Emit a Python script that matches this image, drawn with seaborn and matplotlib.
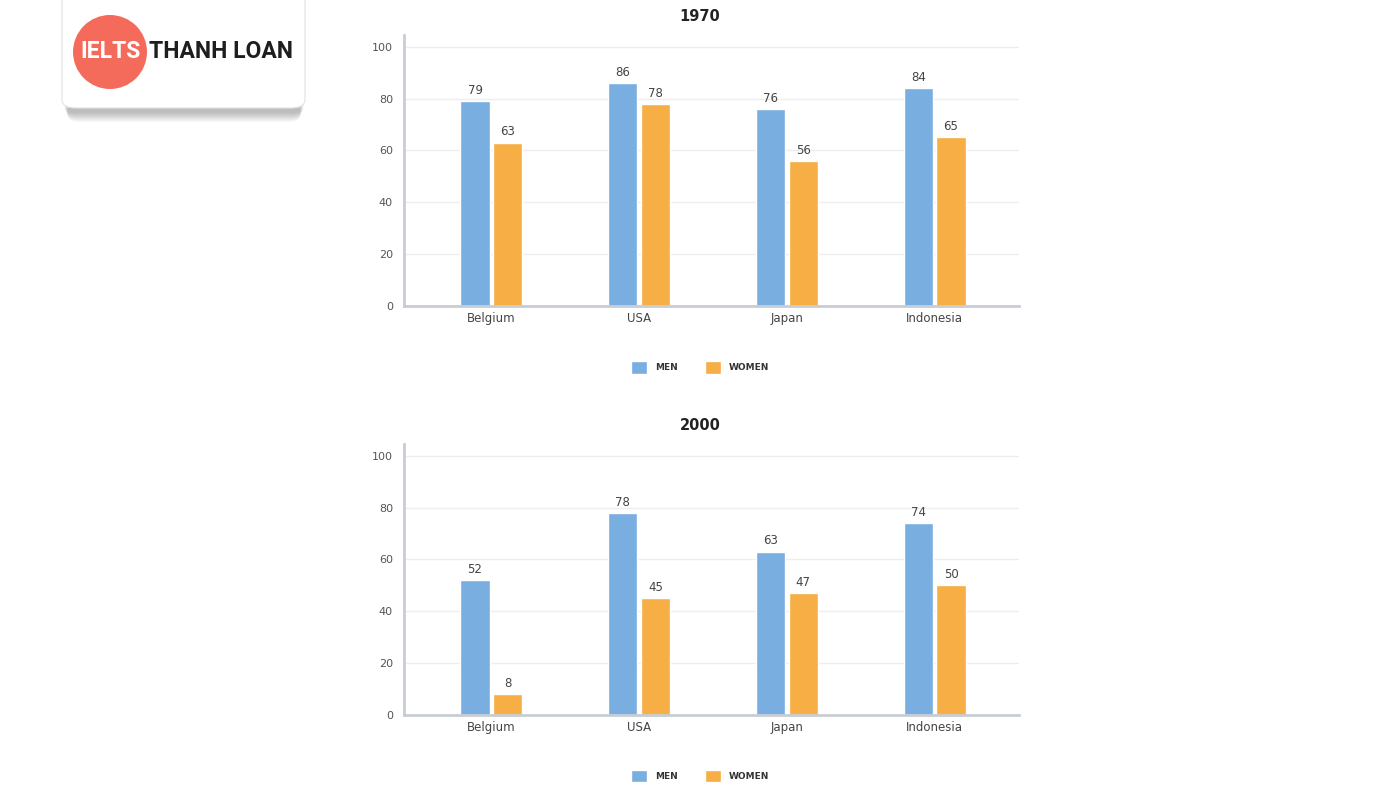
import matplotlib
matplotlib.use("Agg")
import matplotlib.pyplot as plt
from matplotlib.patches import FancyBboxPatch, Circle
from matplotlib import font_manager
import seaborn as sns
import pandas as pd

countries = ["Belgium", "USA", "Japan", "Indonesia"]
series = ["MEN", "WOMEN"]
men_1970 = [79, 86, 76, 84]
women_1970 = [63, 78, 56, 65]
men_2000 = [52, 78, 63, 74]
women_2000 = [8, 45, 47, 50]
y_ticks = [0, 20, 40, 60, 80, 100]
titles = ["1970", "2000"]

BLUE = "#79aee0"
ORANGE = "#f6ae45"

sns.set_theme(style="white")
plt.rcParams["font.family"] = ["DejaVu Sans"]

installed = {f.name for f in font_manager.fontManager.ttflist}
if "Liberation Sans Narrow" in installed:
    logo_family = ["Liberation Sans Narrow"]
    logo_size = 21
elif "DejaVu Sans Condensed" in installed:
    logo_family = ["DejaVu Sans Condensed"]
    logo_size = 18
else:
    logo_family = ["Roboto"]
    logo_size = 16.5

fig = plt.figure(figsize=(14, 8), dpi=100)

def make_df(men, women):
    rows = []
    for c, m, w in zip(countries, men, women):
        rows.append({"country": c, "sex": series[0], "value": m})
        rows.append({"country": c, "sex": series[1], "value": w})
    return pd.DataFrame(rows)

axes_specs = [
    (titles[0], men_1970, women_1970, [0.2886, 0.6175, 0.4393, 0.339], 0.979, 0.541),
    (titles[1], men_2000, women_2000, [0.2886, 0.10625, 0.4393, 0.339], 0.468, 0.030),
]

for title, men, women, rect, title_y, leg_y in axes_specs:
    ax = fig.add_axes(rect)
    df = make_df(men, women)
    sns.barplot(data=df, x="country", y="value", hue="sex", ax=ax,
                palette=[BLUE, ORANGE], width=0.44, gap=0.1,
                saturation=1, legend=True, order=countries, hue_order=series)
    for cont in ax.containers:
        ax.bar_label(cont, padding=3, fontsize=8.5, color="#444444")
    ax.set_ylim(0, 104.6)
    ax.set_xlim(-0.59, 3.57)
    ax.set_yticks(y_ticks)
    ax.set_xlabel("")
    ax.set_ylabel("")
    ax.yaxis.grid(True, color="#eeeeee", linewidth=1)
    ax.set_axisbelow(True)
    for s in ["top", "right"]:
        ax.spines[s].set_visible(False)
    ax.spines["left"].set_color("#c8ccd4")
    ax.spines["left"].set_linewidth(2)
    ax.spines["bottom"].set_color("#c8ccd4")
    ax.spines["bottom"].set_linewidth(2)
    ax.tick_params(axis="y", labelsize=8, colors="#555555", length=0, pad=8)
    ax.tick_params(axis="x", labelsize=8.5, colors="#444444", length=0, pad=4)
    fig.text(0.5, title_y, title, ha="center", va="center", fontsize=10.5,
             fontweight="bold", color="#222222")
    leg = ax.legend(loc="center", bbox_to_anchor=(0.5, leg_y),
                    bbox_transform=fig.transFigure, ncol=2, frameon=False,
                    fontsize=6.5, handlelength=1.8, handleheight=1.8,
                    columnspacing=3.0, handletextpad=0.9)
    for t in leg.get_texts():
        t.set_fontweight("bold")
        t.set_color("#333333")

# Logo box with shadow
for i in range(10):
    sh = FancyBboxPatch(((68 - i * 0.4) / 1400, (800 - 122 + i) / 800),
                        (232 + i * 0.8) / 1400, 122 / 800,
                        boxstyle="round,pad=0,rounding_size=0.008",
                        transform=fig.transFigure, facecolor="#000000",
                        alpha=0.028, edgecolor="none", zorder=1)
    fig.patches.append(sh)
box = FancyBboxPatch((62 / 1400, (800 - 108) / 800), 243 / 1400, 120 / 800,
                     boxstyle="round,pad=0,rounding_size=0.01",
                     transform=fig.transFigure, facecolor="#ffffff",
                     edgecolor="#e2e2e2", linewidth=0.8, zorder=2)
fig.patches.append(box)
lax = fig.add_axes([0, 0, 1, 1], zorder=3)
lax.set_xlim(0, 1400)
lax.set_ylim(800, 0)
lax.axis("off")
lax.set_aspect("equal")
lax.add_patch(Circle((110, 52), 37, facecolor="#f46b5b", edgecolor="none"))
lax.text(111, 52, "IELTS", ha="center", va="center", fontsize=logo_size,
         fontweight="bold", color="white", family=logo_family)
lax.text(149, 52, "THANH LOAN", ha="left", va="center", fontsize=logo_size,
         fontweight="bold", color="#1e1e1e", family=logo_family)

fig.savefig("out.png", dpi=100, facecolor="white")
